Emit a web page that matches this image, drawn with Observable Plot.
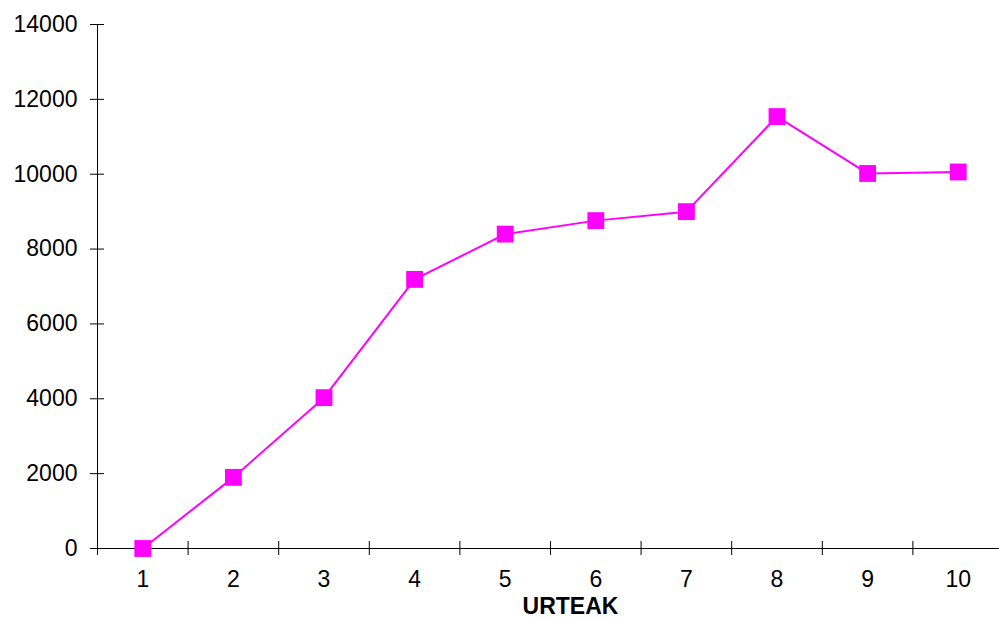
<!DOCTYPE html>
<html>
<head>
<meta charset="utf-8">
<script src="https://cdn.jsdelivr.net/npm/d3@7"></script>
<script src="https://cdn.jsdelivr.net/npm/@observablehq/plot@0.6"></script>
<style>
  html, body { margin: 0; padding: 0; background: #fff; }
  #chart svg { display: block; }
</style>
</head>
<body>
<div id="chart"></div>
<script>
const categories = [1, 2, 3, 4, 5, 6, 7, 8, 9, 10];
const values = [0, 1900, 4030, 7190, 8400, 8760, 9000, 11540, 10020, 10060];
const yTicks = [0, 2000, 4000, 6000, 8000, 10000, 12000, 14000];
const xLabel = "URTEAK";

const data = categories.map((c, i) => ({x: c, y: values[i]}));
const boundaries = [categories[0] - 0.5, ...categories.map(c => c + 0.5)];

const chart = Plot.plot({
  width: 999,
  height: 621,
  marginLeft: 97,
  marginRight: 0,
  marginTop: 24,
  marginBottom: 73,
  style: {fontFamily: "'Liberation Sans', Arial, sans-serif", fontSize: "23px", color: "#000", background: "#fff"},
  x: {domain: [categories[0] - 0.5, categories[categories.length - 1] + 0.5], range: [97, 1003]},
  y: {domain: [0, 14000]},
  marks: [
    Plot.ruleX([boundaries[0]], {stroke: "#000", strokeWidth: 1}),
    Plot.ruleY([0], {stroke: "#000", strokeWidth: 1}),
    Plot.axisY(yTicks, {tickSize: 14, dx: 7, tickFormat: () => "", label: null, stroke: "#000"}),
    Plot.axisY(yTicks, {tickSize: 0, tickPadding: 20, tickFormat: d => String(d), label: null, fontSize: 23, fill: "#000"}),
    Plot.axisX(boundaries, {tickSize: 14, dy: -7, tickFormat: () => "", label: null, stroke: "#000"}),
    Plot.axisX(categories, {tickSize: 0, tickPadding: 22, tickFormat: d => String(d), label: null, fontSize: 23, fill: "#000"}),
    Plot.line(data, {x: "x", y: "y", stroke: "#ff00ff", strokeWidth: 2}),
    Plot.dot(data, {x: "x", y: "y", symbol: "square", r: 9.5, fill: "#ff00ff", stroke: "none"}),
    Plot.text([xLabel], {frameAnchor: "bottom", dy: 65, dx: 22, fontSize: 23, fontWeight: "bold", fill: "#000"})
  ]
});
document.getElementById("chart").appendChild(chart);
</script>
</body>
</html>
